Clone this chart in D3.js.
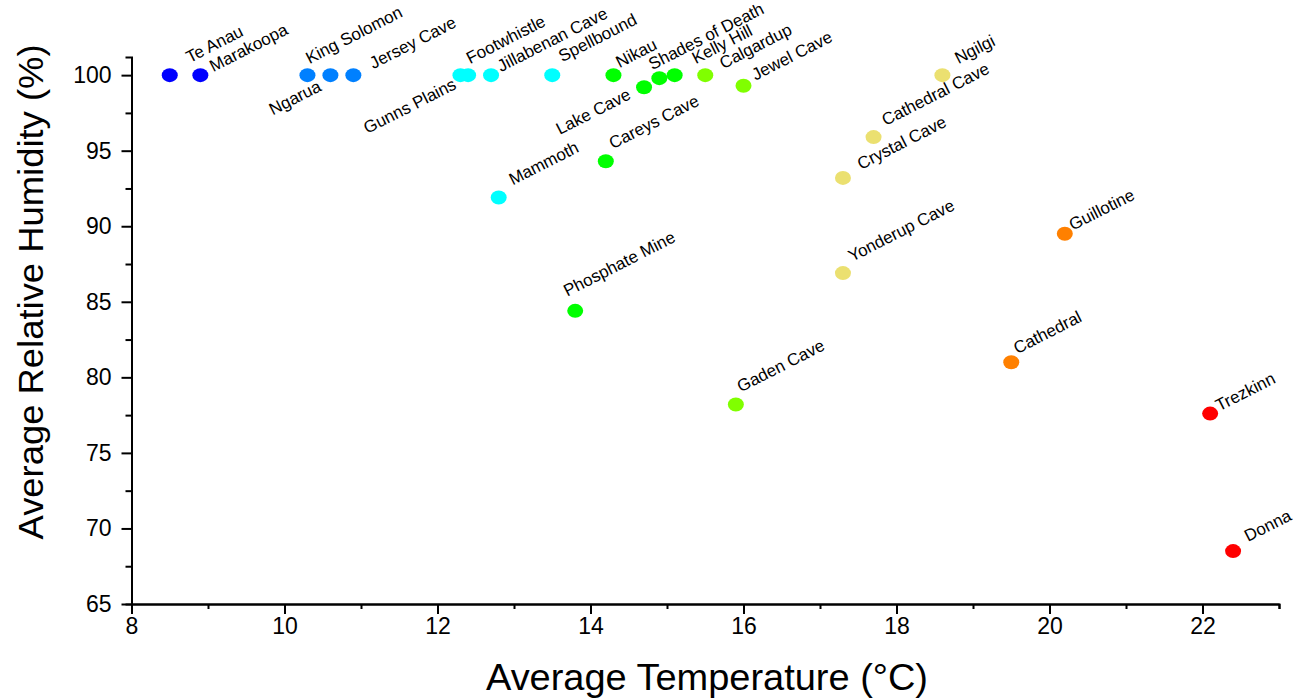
<!DOCTYPE html>
<html>
<head>
<meta charset="utf-8">
<script src="https://cdn.jsdelivr.net/npm/d3@7"></script>
<style>
  body { margin: 0; background: #fff; }
  text { font-family: "Liberation Sans", Arial, sans-serif; }
</style>
</head>
<body>
<div id="chart"></div>
<script>
// cave names, average temperature (°C), average relative humidity (%)
const caves = ["Te Anau", "Marakoopa", "Ngarua", "King Solomon", "Jersey Cave",
  "Gunns Plains", "Footwhistle", "Jillabenan Cave", "Spellbound", "Mammoth",
  "Nikau", "Lake Cave", "Shades of Death", "Kelly Hill", "Careys Cave", "Phosphate Mine",
  "Calgardup", "Jewel Cave", "Gaden Cave",
  "Ngilgi", "Cathedral Cave", "Crystal Cave", "Yonderup Cave",
  "Guillotine", "Cathedral", "Trezkinn", "Donna"]
const temps = [8.5, 8.9, 10.3, 10.6, 10.9,
  12.3, 12.4, 12.7, 13.5, 12.8,
  14.3, 14.7, 14.9, 15.1, 14.2, 13.8,
  15.5, 16.0, 15.9,
  18.6, 17.7, 17.3, 17.3,
  20.2, 19.5, 22.1, 22.4]
const humidity = [100, 100, 100, 100, 100,
  100, 100, 100, 100, 91.9,
  100, 99.2, 99.8, 100, 94.3, 84.4,
  100, 99.3, 78.2,
  100, 95.9, 93.2, 86.9,
  89.5, 81.0, 77.6, 68.5]
const groups = [0, 0, 1, 1, 1,
  2, 2, 2, 2, 2,
  3, 3, 3, 3, 3, 3,
  4, 4, 4,
  5, 5, 5, 5,
  6, 6, 7, 7]
const groupColors = ["#0000ff", "#0080ff", "#00ffff", "#00ff00", "#80ff00", "#ebe070", "#ff8000", "#ff0000"]

const xTicks = [8, 10, 12, 14, 16, 18, 20, 22]
const yTicks = [65, 70, 75, 80, 85, 90, 95, 100]

// hand placed label nudges (dx, dy, anchor), like the original
const labelNudge = {
  "Te Anau": [20, -12], "Marakoopa": [13, -3], "Ngarua": [15, 15, "end"],
  "King Solomon": [-21, -11], "Jersey Cave": [20, -6], "Gunns Plains": [-3, 13, "end"],
  "Footwhistle": [2, -11], "Jillabenan Cave": [10, -3], "Spellbound": [10, -13],
  "Mammoth": [14, -12], "Nikau": [6, -7], "Lake Cave": [-12, 11, "end"],
  "Shades of Death": [-7, -8], "Kelly Hill": [21, -11], "Careys Cave": [7, -12],
  "Phosphate Mine": [-8, -14], "Calgardup": [18, -6], "Jewel Cave": [12, -5],
  "Gaden Cave": [5, -12], "Ngilgi": [16, -11], "Cathedral Cave": [12, -11],
  "Crystal Cave": [18, -8], "Yonderup Cave": [9, -11], "Guillotine": [8, -3],
  "Cathedral": [6, -8], "Trezkinn": [9, -2], "Donna": [15, -9]
}

const data = caves.map((c, i) => ({name: c, t: temps[i], h: humidity[i], g: groups[i]}))

const svg = d3.select("#chart")
  .append("svg")
    .attr("width", 1295)
    .attr("height", 699)

const xScale = d3.scaleLinear().domain([8, 23]).range([131.5, 1279])
const yScale = d3.scaleLinear().domain([65, 101.2]).range([604, 57])

// minor ticks
svg.append("g")
  .attr("transform", "translate(0,604)")
  .call(d3.axisBottom(xScale).tickValues(d3.range(9, 24, 2)).tickSize(5).tickFormat(""))
svg.append("g")
  .attr("transform", "translate(131.5,0)")
  .call(d3.axisLeft(yScale).tickValues(d3.range(67.5, 100, 5)).tickSize(6).tickFormat(""))

const xAxis = svg.append("g")
  .attr("transform", "translate(0,604)")
  .call(d3.axisBottom(xScale).tickValues(xTicks).tickSize(10).tickSizeOuter(0).tickPadding(4))
const yAxis = svg.append("g")
  .attr("transform", "translate(131.5,0)")
  .call(d3.axisLeft(yScale).tickValues(yTicks).tickSize(10).tickSizeOuter(0).tickPadding(10))

svg.selectAll(".domain, .tick line")
  .attr("stroke", "#000")
  .attr("stroke-width", 2)
svg.selectAll(".tick text")
  .attr("fill", "#000")
  .style("font-size", "23px")
  .style("font-family", "'Liberation Sans', Arial, sans-serif")

svg.append("text")
  .text("Average Temperature (°C)")
  .attr("x", 707)
  .attr("y", 690)
  .attr("text-anchor", "middle")
  .attr("textLength", 442)
  .attr("lengthAdjust", "spacingAndGlyphs")
  .style("font-size", "36px")

svg.append("text")
  .text("Average Relative Humidity (%)")
  .attr("transform", "translate(43,292) rotate(-90)")
  .attr("text-anchor", "middle")
  .attr("textLength", 495)
  .attr("lengthAdjust", "spacingAndGlyphs")
  .style("font-size", "35px")

const pt = svg.selectAll(".pt")
  .data(data)
  .join("g")
    .attr("class", "pt")
    .attr("transform", d => `translate(${xScale(d.t)},${yScale(d.h)})`)

pt.append("ellipse")
  .attr("rx", 8)
  .attr("ry", 7)
  .attr("fill", d => groupColors[d.g])

pt.append("text")
  .text(d => d.name)
  .attr("transform", d => {
    const n = labelNudge[d.name] || [10, -8]
    return `translate(${n[0]},${n[1]}) rotate(-27)`
  })
  .attr("text-anchor", d => (labelNudge[d.name] || [])[2] || "start")
  .style("font-size", "17px")
  .attr("fill", "#000")
</script>
</body>
</html>
